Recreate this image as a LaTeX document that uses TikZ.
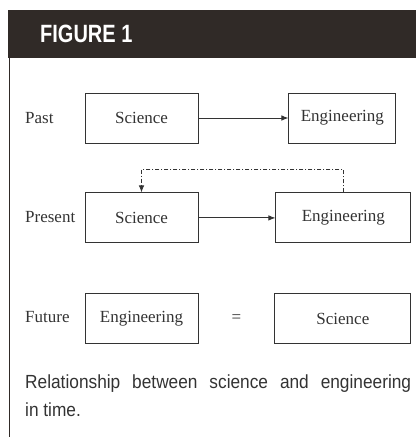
\documentclass[tikz,border=0pt]{standalone}
\usepackage{fontspec}
\setmainfont{Liberation Serif}
\newfontfamily\capfont[FakeStretch=0.91]{Liberation Sans}
\newfontfamily\headfont[FakeStretch=0.8]{Liberation Sans}
\usepackage{tikz}
\usetikzlibrary{arrows.meta,positioning,calc}
\definecolor{boxgray}{RGB}{51,51,51}
\definecolor{headdark}{RGB}{48,42,39}

\begin{document}
\begin{tikzpicture}[
    x=1pt, y=-1pt,
    >={Latex[length=7pt,width=5.5pt]},
    font=\fontsize{17}{20}\selectfont,
    block/.style={
		rectangle,
		draw=boxgray,
		line width=0.9pt,
		text=boxgray,
		text centered,
		minimum width=113pt,
		minimum height=50pt,
		inner sep=0pt
	},
	rowlabel/.style={
		anchor=west,
		inner sep=0pt,
		text=boxgray
	},
	link/.style={
		draw=boxgray,
		line width=0.9pt
	},
	caption/.style={
		anchor=north west,
		inner sep=0pt,
		text width=386pt,
		align=justify,
		text=boxgray,
		font=\capfont\fontsize{19}{28}\selectfont
	}
  ]
  \useasboundingbox (0,0) rectangle (416,437);

  % header band and frame
  \fill[headdark] (8,10) rectangle (416,58);
  \draw[headdark, line width=1.5pt] (9.5,58) -- (9.5,437);
  \node[anchor=west, inner sep=0pt, text=white, font=\headfont\bfseries\fontsize{25}{28}\selectfont] (title) at (40,34) {FIGURE 1};

  % We start by placing the blocks
  \node [block] (pastsci) at (141.5,118) {Science};
  \node [block, right=90pt of pastsci, minimum width=107pt] (pasteng) {Engineering};

  \node [block, below=49pt of pastsci] (presci) {Science};
  \node [block, right=77pt of presci, minimum width=135pt] (preeng) {Engineering};

  \node [block, below=50pt of presci] (futeng) {Engineering};
  \node [block, right=76pt of futeng, minimum width=136pt] (futsci) {Science};
  \node [text=boxgray] (equals) at ($(futeng.east)!0.5!(futsci.west)$) {=};

  % row labels
  \node [rowlabel] (pastlbl) at (25,118) {Past};
  \node [rowlabel] (prelbl) at (25,217) {Present};
  \node [rowlabel] (futlbl) at (25,317) {Future};

  % connectors
  \draw [link,->] (pastsci) -- (pasteng);
  \draw [link,->] (presci) -- (preeng);
  \draw [link,->, dash pattern=on 4pt off 2pt on 1pt off 2pt] (preeng.north) -- ++(0,-23) -| (presci.north);

  \node [caption] (captxt) at (25,374.5) {Relationship between science and engineering\linebreak in time.};

\end{tikzpicture}
\end{document}
